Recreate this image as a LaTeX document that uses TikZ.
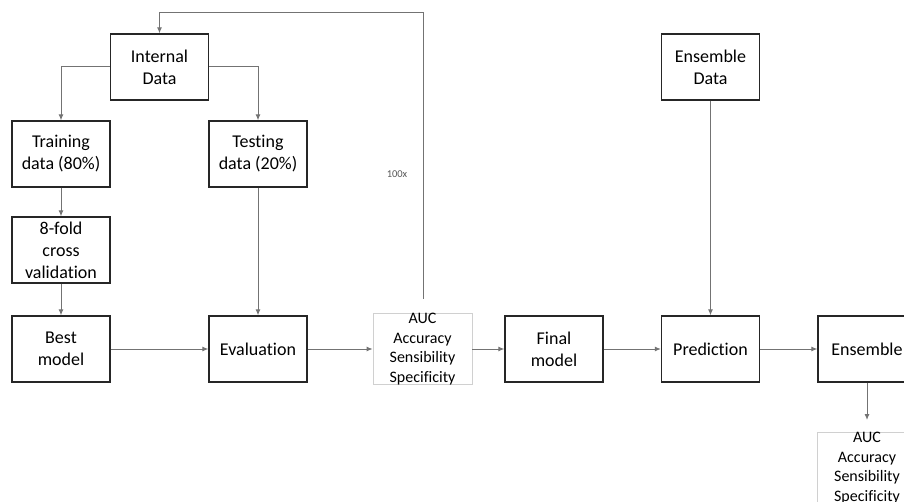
\documentclass[tikz,border=0pt]{standalone}
\usepackage{fontspec}
\setmainfont[Ligatures=NoCommon]{Carlito}
\usetikzlibrary{arrows.meta,positioning}
\definecolor{boxline}{HTML}{262626}
\definecolor{flowline}{HTML}{737373}
\definecolor{metricline}{HTML}{D0D0D0}
\definecolor{labelgray}{HTML}{595959}
\begin{document}
\begin{tikzpicture}[x=1pt,y=-1pt,
  stepbox/.style={draw=boxline, line width=1.3pt, minimum width=98pt, minimum height=66pt,
    inner sep=0pt, align=center, font=\fontsize{18}{22}\selectfont, text=black},
  metricbox/.style={draw=metricline, line width=0.8pt, minimum width=99pt, minimum height=66pt,
    inner sep=0pt, align=center, font=\fontsize{16}{19.5}\selectfont, text=black},
  flow/.style={draw=flowline, line width=1pt, -{Latex[length=6pt,width=5pt]}}]
\clip (0,0) rectangle (904,502);
\fill[white] (0,0) rectangle (904,502);

% data preparation column
\node[stepbox] (internal) at (159.5,67) {Internal\\Data};
\node[stepbox] (training) at (61,154) {Training\\data (80\%)};
\node[stepbox] (testing)  at (258,154) {Testing\\data (20\%)};
\node[stepbox] (cv)       at (61,250) {8-fold\\cross\\validation};
\node[stepbox] (best)     at (61,349) {Best\\model};
\node[stepbox] (eval)     at (258,349) {Evaluation};

% metrics, final model and ensemble
\node[metricbox] (auc1)   at (422.5,349) {AUC\\Accuracy\\Sensibility\\Specificity};
\node[stepbox] (final)    at (554,349) {Final\\model};
\node[stepbox] (pred)     at (710.5,349) {Prediction};
\node[stepbox] (ensdata)  at (710.5,67) {Ensemble\\Data};
\node[stepbox] (ens)      at (867,349) {Ensemble};
\node[metricbox] (auc2)   at (867,468) {AUC\\Accuracy\\Sensibility\\Specificity};

\node[font=\fontsize{10.5}{12}\selectfont, text=labelgray] (reps) at (397,174) {100x};

\coordinate (loopfoot) at (423,299);
\coordinate (auc2in) at (867,420);

% connectors
\draw[flow] (internal.west) -| (training.north);
\draw[flow] (internal.east) -| (testing.north);
\draw[flow] (training.south) -- (cv.north);
\draw[flow] (cv.south) -- (best.north);
\draw[flow] (testing.south) -- (eval.north);
\draw[flow] (best.east) -- (eval.west);
\draw[flow] (eval.east) -- (auc1.west);
\draw[flow] (auc1.east) -- (final.west);
\draw[flow] (final.east) -- (pred.west);
\draw[flow] (pred.east) -- (ens.west);
\draw[flow] (ensdata.south) -- (pred.north);
\draw[flow] (ens.south) -- (auc2in);
\draw[flow] (loopfoot) -- (loopfoot |- 0,13) -| (internal.north);
\end{tikzpicture}
\end{document}
